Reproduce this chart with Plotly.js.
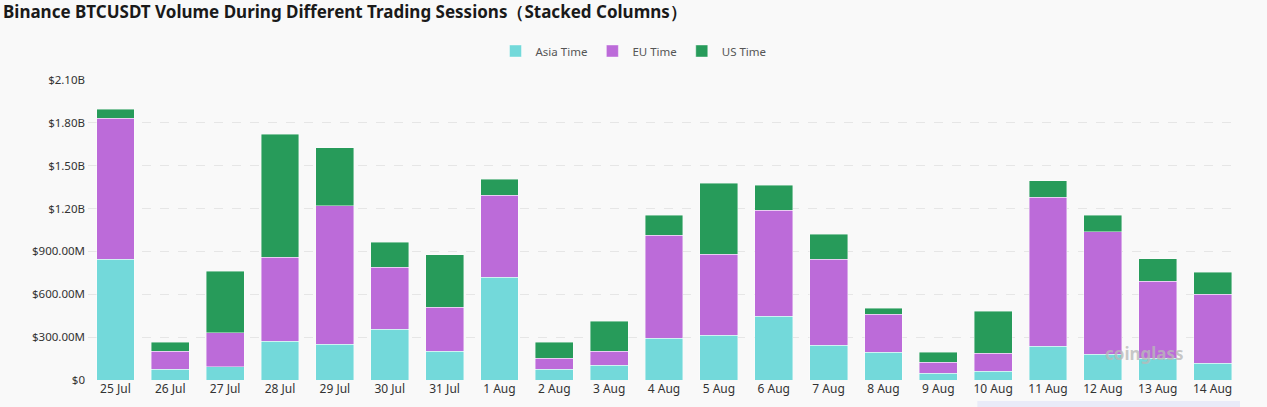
<!DOCTYPE html>
<html>
<head>
<meta charset="utf-8">
<script src="https://cdn.plot.ly/plotly-3.0.1.min.js"></script>
<style>
html,body{margin:0;padding:0;background:#f9f9f9;}
#chart{width:1267px;height:407px;}
</style>
</head>
<body>
<div id="chart"></div>
<script>
const categories = ["25 Jul","26 Jul","27 Jul","28 Jul","29 Jul","30 Jul","31 Jul","1 Aug","2 Aug","3 Aug","4 Aug","5 Aug","6 Aug","7 Aug","8 Aug","9 Aug","10 Aug","11 Aug","12 Aug","13 Aug","14 Aug"];
// values in millions USD
const asiaTime = [845, 75, 93, 273, 250, 355, 203, 721, 77, 105, 292, 315, 448, 243, 196, 47, 61, 238, 182, 152, 117];
const euTime   = [987, 128, 238, 586, 970, 434, 306, 572, 75, 98, 723, 567, 742, 602, 264, 77, 126, 1043, 856, 541, 483];
const usTime   = [63, 61, 432, 863, 406, 177, 368, 114, 112, 210, 138, 495, 175, 177, 42, 72, 294, 114, 117, 156, 156];
const yTickVals = [0, 300, 600, 900, 1200, 1500, 1800, 2100];
const yTickText = ["$0", "$300.00M", "$600.00M", "$900.00M", "$1.20B", "$1.50B", "$1.80B", "$2.10B"];

const lineStyle = {width: 0.6, color: "rgba(255,255,255,0.7)"};
const traces = [
  {type: "bar", name: "Asia Time", x: categories, y: asiaTime, marker: {color: "#73d9da", line: lineStyle}},
  {type: "bar", name: "EU Time", x: categories, y: euTime, marker: {color: "#bc6bd9", line: lineStyle}},
  {type: "bar", name: "US Time", x: categories, y: usTime, marker: {color: "#279b5a", line: lineStyle}}
];

const layout = {
  width: 1267, height: 407,
  barmode: "stack",
  bargap: 0.31,
  paper_bgcolor: "#f9f9f9",
  plot_bgcolor: "#f9f9f9",
  font: {family: "Noto Sans, sans-serif", size: 11, color: "#333"},
  margin: {l: 88, r: 27, t: 80, b: 27},
  title: {
    text: "<b>Binance BTCUSDT Volume During Different Trading Sessions（Stacked Columns）</b>",
    x: 3/1267, xref: "container", xanchor: "left",
    y: 1 - 12/407, yref: "container", yanchor: "middle", pad: {t: 0, l: 0},
    font: {family: "Noto Sans, sans-serif", size: 17, color: "#1a1a1a"}
  },
  showlegend: true,
  legend: {
    orientation: "h", x: 0.5, xref: "container", xanchor: "center",
    y: 1 - 51/407, yref: "container", yanchor: "middle",
    font: {size: 11.5, color: "#555"}, itemwidth: 30, traceorder: "normal",
    bgcolor: "rgba(0,0,0,0)"
  },
  xaxis: {
    type: "category", showgrid: false, zeroline: false, showline: false,
    ticks: "", tickfont: {size: 12, color: "#333"}, fixedrange: true
  },
  yaxis: {
    range: [0, 2100], tickvals: yTickVals, ticktext: yTickText,
    showgrid: true, gridcolor: "#e6e6e6", griddash: "dash", gridwidth: 1,
    zeroline: false, showline: false, ticks: "", ticklabelstandoff: 2,
    tickfont: {size: 11.5, color: "#333"}, fixedrange: true
  },
  shapes: [
    {type: "rect", xref: "paper", yref: "paper", x0: 0.772, x1: 1.0, y0: -0.09, y1: -0.07,
     fillcolor: "#e9ebf8", line: {width: 0}, layer: "below"}
  ],
  annotations: [
    {text: "<b>coinglass</b>", xref: "paper", yref: "paper", x: 0.9175, y: 0.09,
     xanchor: "center", yanchor: "middle",
     showarrow: false, font: {size: 17, color: "rgba(185,185,185,0.8)"}}
  ]
};

Plotly.newPlot("chart", traces, layout, {displayModeBar: false, responsive: false});
</script>
</body>
</html>
